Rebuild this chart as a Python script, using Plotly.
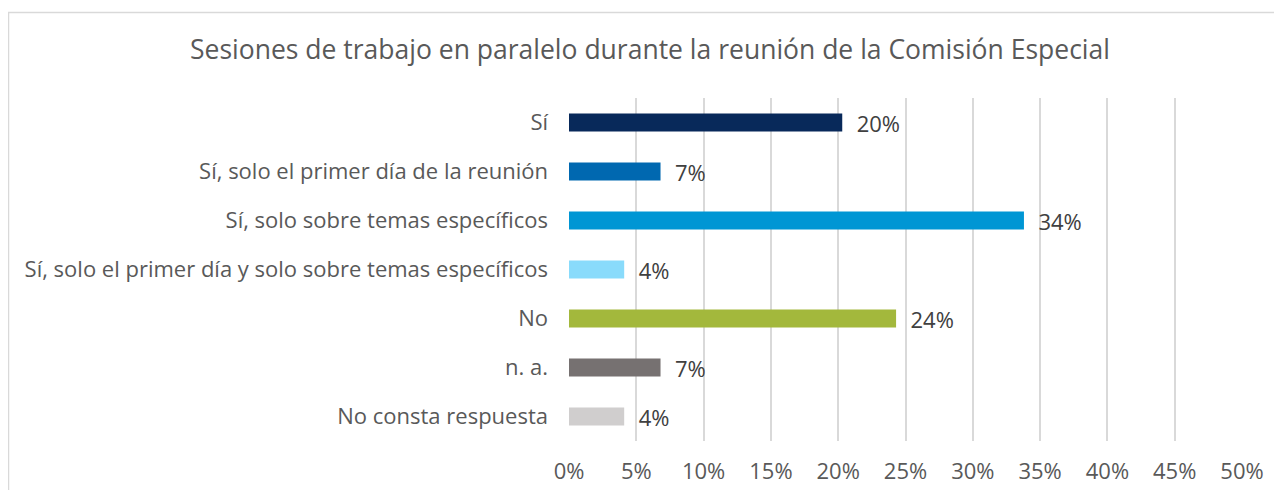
import plotly.graph_objects as go

categories = [
    "Sí",
    "Sí, solo el primer día de la reunión",
    "Sí, solo sobre temas específicos",
    "Sí, solo el primer día y solo sobre temas específicos",
    "No",
    "n. a.",
    "No consta respuesta",
]
values = [20.3, 6.8, 33.8, 4.1, 24.3, 6.8, 4.1]
colors = ["#08295A", "#0068B0", "#0096D4", "#89DBFB", "#A3B83C", "#767171", "#D0CECE"]
tick_vals = [0, 5, 10, 15, 20, 25, 30, 35, 40, 45, 50]
tick_text = [f"{v}%" for v in tick_vals]
title_text = "Sesiones de trabajo en paralelo durante la reunión de la Comisión Especial"

FONT = "Open Sans"
TXT = "#595959"
FS = 22

# page body has an 8px margin; figure coordinates are window coordinates minus 8
OFF = 8
W, H = 1282 - OFF, 490 - OFF
L, R, T, B = 569 - OFF, 40, 98 - OFF, 49
pw, ph = W - L - R, H - T - B

def px_x(p):
    return (p - OFF - L) / pw

def px_y(p):
    return 1 - (p - OFF - T) / ph

fig = go.Figure(
    go.Bar(
        y=categories,
        x=values,
        orientation="h",
        marker=dict(color=colors, line=dict(width=0)),
        width=0.37,
        texttemplate="\u00a0\u00a0%{x:.0f}%",
        textposition="outside",
        constraintext="none",
        textfont=dict(family=FONT, size=FS, color="#404040"),
        cliponaxis=False,
        hoverinfo="skip",
    )
)

fig.update_layout(
    width=W,
    height=H,
    margin=dict(l=L, r=R, t=T, b=B, pad=0, autoexpand=False),
    paper_bgcolor="white",
    plot_bgcolor="white",
    showlegend=False,
    font=dict(family=FONT, size=FS, color=TXT),
    title=dict(
        text=title_text,
        x=(650 - OFF) / W,
        xref="container",
        xanchor="center",
        y=1 - (50 - OFF) / H,
        yref="container",
        yanchor="middle",
        font=dict(family=FONT, size=26.5, color=TXT),
    ),
    xaxis=dict(
        range=[0, 50],
        tickmode="array",
        tickvals=tick_vals,
        ticktext=tick_text,
        showgrid=True,
        gridcolor="#D9D9D9",
        gridwidth=1.5,
        zeroline=False,
        showline=False,
        ticks="",
        ticklabelstandoff=15,
        automargin=False,
        tickfont=dict(family=FONT, size=FS, color=TXT),
        fixedrange=True,
    ),
    yaxis=dict(
        categoryorder="array",
        categoryarray=categories,
        autorange="reversed",
        showgrid=False,
        zeroline=False,
        showline=False,
        ticks="",
        ticklabelstandoff=20,
        automargin=False,
        tickfont=dict(family=FONT, size=FS, color=TXT),
        fixedrange=True,
    ),
    shapes=[
        dict(
            type="rect",
            xref="paper",
            yref="paper",
            x0=px_x(8.5),
            x1=px_x(1300),
            y0=px_y(500),
            y1=px_y(12.5),
            line=dict(color="#D9D9D9", width=1.5),
            fillcolor="rgba(0,0,0,0)",
            layer="below",
        )
    ],
)

fig.write_html("out.html")
